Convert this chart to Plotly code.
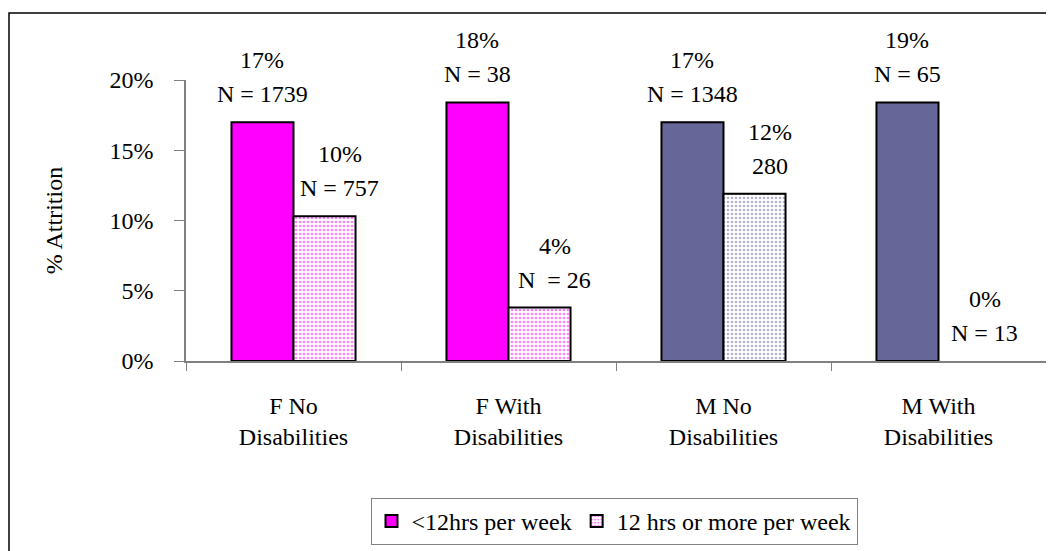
import plotly.graph_objects as go

# ---- data ----
categories = ["F No<br>Disabilities", "F With<br>Disabilities", "M No<br>Disabilities", "M With<br>Disabilities"]
series_names = ["<12hrs per week", "12 hrs or more per week"]
attr_lt12 = [17.0, 18.4, 17.0, 18.4]
attr_ge12 = [10.3, 3.8, 11.9, 0.0]
pct_lt12 = ["17%", "18%", "17%", "19%"]
pct_ge12 = ["10%", "4%", "12%", "0%"]
n_lt12 = ["N = 1739", "N = 38", "N = 1348", "N = 65"]
n_ge12 = ["N = 757", "N  = 26", "280", "N = 13"]
y_ticks = [0, 5, 10, 15, 20]
y_tick_labels = ["0%", "5%", "10%", "15%", "20%"]

# ---- style ----
FONT = "Liberation Serif"
FS = 24
MAGENTA = "#FF00FF"
SLATE = "#666699"
group_colors = [MAGENTA, MAGENTA, SLATE, SLATE]
AXIS = "#808080"

# page body has an 8px margin: lay out in figure coordinates
OFF = 8
W, H = 1054 - OFF, 551 - OFF
L, T = 186 - OFF, 80 - OFF
R = W - (1046 - OFF)
B = H - (361 - OFF)
plot_w = W - L - R
plot_h = H - T - B

fig = go.Figure()
fig.add_trace(go.Bar(
    name=series_names[0], x=categories, y=attr_lt12,
    marker=dict(color=group_colors, line=dict(color="black", width=2)),
))
fig.add_trace(go.Bar(
    name=series_names[1], x=categories, y=attr_ge12,
    marker=dict(color="white",
                pattern=dict(shape=".", fgcolor=group_colors, bgcolor="white",
                             size=4, solidity=0.35, fillmode="overlay"),
                line=dict(color="black", width=[2 if v > 0 else 0 for v in attr_ge12])),
))

cat_w = plot_w / len(categories)
bargap = 0.423
bar_w = cat_w * (1 - bargap) / 2

annotations = []
for i, cat in enumerate(categories):
    for vals, pcts, ns, dx in ((attr_lt12, pct_lt12, n_lt12, -bar_w / 2),
                               (attr_ge12, pct_ge12, n_ge12, bar_w / 2 + 15)):
        for txt, dy in ((ns[i], 28), (pcts[i], 62)):
            annotations.append(dict(
                x=cat, y=vals[i], xref="x", yref="y", text=txt, showarrow=False,
                xshift=dx, yshift=dy, yanchor="middle", xanchor="center",
                font=dict(family=FONT, size=FS, color="black")))

fig.update_layout(
    width=W, height=H,
    margin=dict(l=L, r=R, t=T, b=B, pad=0, autoexpand=False),
    paper_bgcolor="white", plot_bgcolor="white",
    barmode="group", bargap=bargap, bargroupgap=0,
    font=dict(family=FONT, size=FS, color="black"),
    showlegend=True,
    legend=dict(orientation="h", x=(614 - 186) / plot_w, xanchor="center",
                y=(T + plot_h - (498 - OFF)) / plot_h,
                yanchor="top", bordercolor=AXIS, borderwidth=1,
                font=dict(family=FONT, size=FS, color="black"),
                itemwidth=30, tracegroupgap=0),
    annotations=annotations,
    shapes=[dict(type="rect", xref="paper", yref="paper",
                 x0=(9 - OFF - L) / plot_w, x1=(W + 10 - L) / plot_w,
                 y0=-(B + 10) / plot_h, y1=(T + plot_h - (13 - OFF)) / plot_h,
                 line=dict(color="black", width=1.5), fillcolor="rgba(0,0,0,0)", layer="below")],
)
fig.update_xaxes(
    automargin=False,
    showline=True, linecolor=AXIS, linewidth=1.5,
    ticks="outside", tickson="boundaries", ticklen=8, tickcolor=AXIS, tickwidth=1,
    ticklabelstandoff=22, showgrid=False,
    tickfont=dict(family=FONT, size=FS, color="black"),
)
fig.update_yaxes(
    automargin=False,
    range=[0, 20], tickvals=y_ticks, ticktext=y_tick_labels,
    showline=True, linecolor=AXIS, linewidth=1.5,
    ticks="outside", ticklen=10, tickcolor=AXIS, tickwidth=1,
    ticklabelstandoff=16, showgrid=False, zeroline=False,
    tickfont=dict(family=FONT, size=FS, color="black"),
    title=dict(text="% Attrition", font=dict(family=FONT, size=FS, color="black"), standoff=40),
)
fig.write_html("out.html")
